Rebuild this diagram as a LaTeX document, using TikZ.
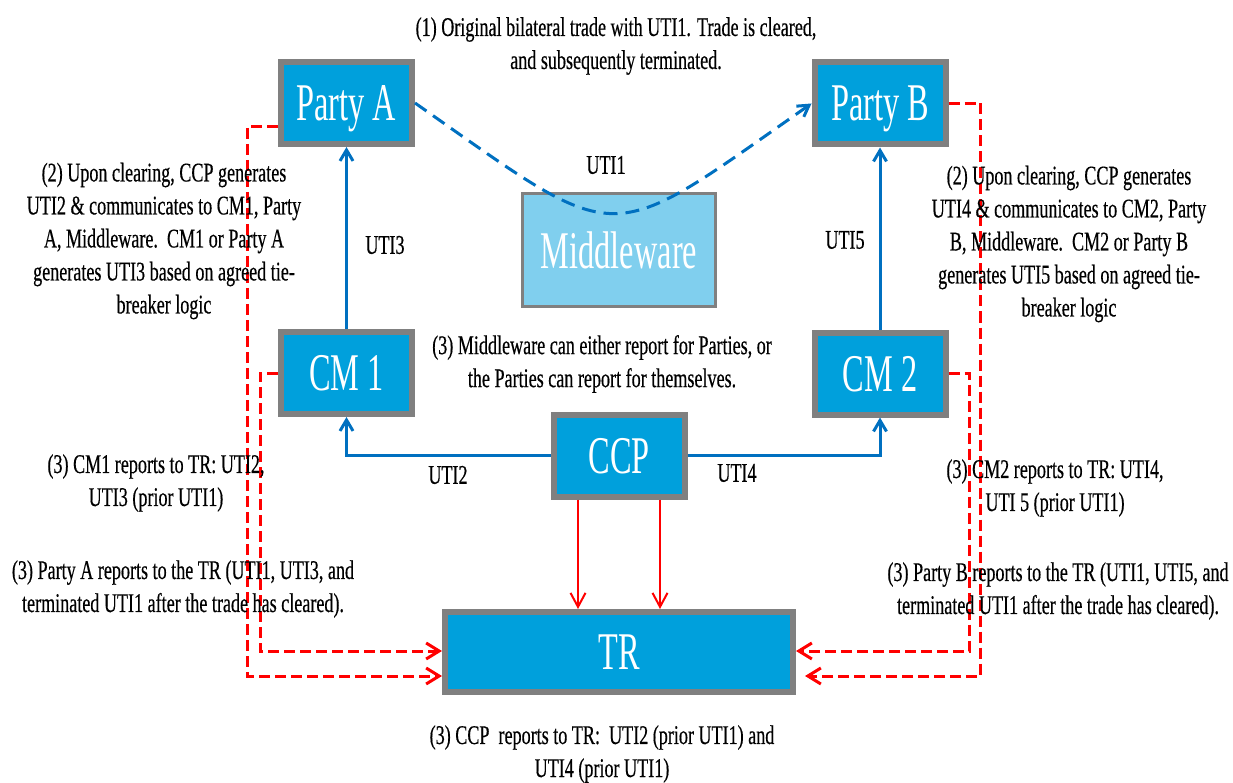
\documentclass[tikz,border=0pt]{standalone}
\usepackage{fontspec}
\setmainfont{Liberation Serif}
\newfontfamily\txtfont{Liberation Serif}[FakeStretch=0.67,FakeBold=0.4]
\newfontfamily\boxfont{Liberation Serif}[FakeStretch=0.61]
\usetikzlibrary{arrows.meta}
\definecolor{boxblue}{RGB}{0,160,220}
\definecolor{midblue}{RGB}{128,207,238}
\definecolor{lineblue}{RGB}{0,112,192}
\definecolor{bordergray}{RGB}{128,128,128}
\definecolor{redline}{RGB}{255,0,0}
\begin{document}
\begin{tikzpicture}[x=1pt,y=-1pt,
  box/.style={draw=bordergray, line width=6pt, fill=boxblue, text=white,
    font=\boxfont\fontsize{53}{53}\selectfont, inner sep=0pt, text depth=0pt,
    minimum width=131pt, minimum height=82pt},
  txt/.style={align=center, font=\txtfont\fontsize{27}{33}\selectfont, inner sep=0pt},
  blueline/.style={draw=lineblue, line width=3pt, -{Straight Barb[length=11pt,width=13pt]}},
  reddash/.style={draw=redline, line width=3pt, dash pattern=on 11pt off 5pt,
    -{Straight Barb[length=13pt,width=16pt]}},
  redsolid/.style={draw=redline, line width=2pt, -{Straight Barb[length=14pt,width=15pt]}},
  bluedash/.style={draw=lineblue, line width=3pt, dash pattern=on 14pt off 8pt,
    -{Straight Barb[length=11pt,width=13pt]}}
]
\useasboundingbox (0,0) rectangle (1233,783);

% boxes
\node[box] (PA) at (346.5,103) {Party A};
\node[box] (PB) at (880,103.5) {Party B};
\node[box, fill=midblue, line width=3pt, minimum width=193pt, minimum height=113pt] (MW) at (619,250) {Middleware};
\node[box] (CM1) at (346.5,373) {CM 1};
\node[box] (CM2) at (880,373.5) {CM 2};
\node[box] (CCP) at (619,455.5) {CCP};
\node[box, minimum width=348pt, minimum height=80pt] (TR) at (619,652) {TR};

% blue connectors
\draw[blueline] (CM1.north) -- (PA.south);
\draw[blueline] (CM2.north) -- (PB.south);
\draw[blueline] (CCP.west) -| (CM1.south);
\draw[blueline] (CCP.east) -| (CM2.south);
\draw[bluedash] (PA.east) .. controls (625,250) and (602,250) .. (PB.west);

% red solid
\draw[redsolid] ([xshift=-41pt]CCP.south) -- ([xshift=-41pt]CCP.south |- TR.north);
\draw[redsolid] ([xshift=41pt]CCP.south) -- ([xshift=41pt]CCP.south |- TR.north);

% red dashed
\draw[reddash] ([yshift=-24pt]PA.west) -- ++(-31,0) |- ([yshift=-24pt]TR.west);
\draw[reddash] (CM1.west) -- ++(-18,0) |- ([yshift=1pt]TR.west);
\draw[reddash] (PB.east) -- ++(32,0) |- ([xshift=9pt,yshift=-24pt]TR.east);
\draw[reddash] (CM2.east) -- ++(21,0) |- ([yshift=1pt]TR.east);

% labels
\node[txt] (l1) at (616,46) {(1) Original bilateral trade with UTI1. Trade is cleared,\\and subsequently terminated.};
\node[txt] (l2a) at (164,241) {(2) Upon clearing, CCP generates\\UTI2 \& communicates to CM1, Party\\A, Middleware.\ \ CM1 or Party A\\generates UTI3 based on agreed tie-\\breaker logic};
\node[txt] (l2b) at (1069,244) {(2) Upon clearing, CCP generates\\UTI4 \& communicates to CM2, Party\\B, Middleware.\ \ CM2 or Party B\\generates UTI5 based on agreed tie-\\breaker logic};
\node[txt] (l3m) at (602,364) {(3) Middleware can either report for Parties, or\\the Parties can report for themselves.};
\node[txt] (l3c1) at (156,483) {(3) CM1 reports to TR: UTI2,\\UTI3 (prior UTI1)};
\node[txt] (l3pa) at (183,589) {(3) Party A reports to the TR (UTI1, UTI3, and\\terminated UTI1 after the trade has cleared).};
\node[txt] (l3c2) at (1055,488) {(3) CM2 reports to TR: UTI4,\\UTI 5 (prior UTI1)};
\node[txt] (l3pb) at (1058,591) {(3) Party B reports to the TR (UTI1, UTI5, and\\terminated UTI1 after the trade has cleared).};
\node[txt] (l3ccp) at (602,754) {(3) CCP\ \ reports to TR:\ \ UTI2 (prior UTI1) and\\UTI4 (prior UTI1)};
\node[txt] (u1) at (606,165) {UTI1};
\node[txt] (u3) at (385,245) {UTI3};
\node[txt] (u5) at (845,240) {UTI5};
\node[txt] (u2) at (448,475) {UTI2};
\node[txt] (u4) at (737,473) {UTI4};
\end{tikzpicture}
\end{document}
